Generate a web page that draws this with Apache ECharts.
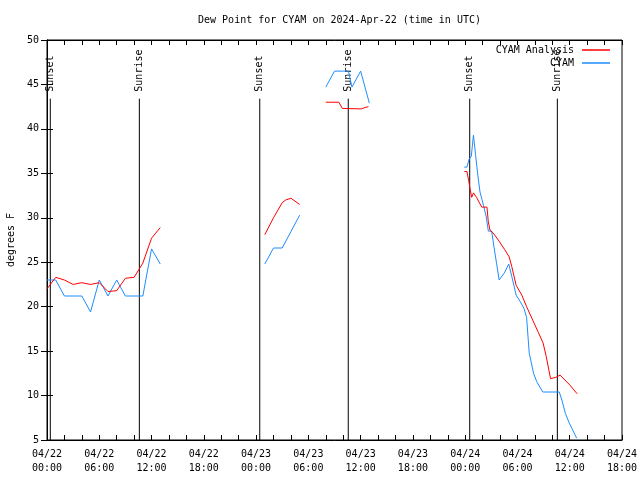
<!DOCTYPE html>
<html>
<head>
<meta charset="utf-8">
<script src="https://cdn.jsdelivr.net/npm/echarts@6/dist/echarts.min.js"></script>
<style>html,body{margin:0;padding:0;background:#fff}#c{width:640px;height:480px}</style>
</head>
<body>
<div id="c"></div>
<script>
// Time in hours since 2024-04-22 00:00 UTC; null value = gap
const analysisHours = [0,1,2,3,4,5,6,7,8,9,10,11,12,13, 14,
  25,26,27,27.4,28,29, 30,
  32,33.5,33.9,36.1,36.5,36.9, 40,
  47.9,48.2,48.4,48.55,48.75,48.95,49.3,49.9,50.5,50.65,50.85,51.2,51.8,52.55,53.05,53.35,53.85,54.5,55.05,55.75,56.35,56.95,57.3,57.8,58.4,58.9,60.0,60.85];
const analysisValues = [22.0,23.3,23.0,22.5,22.7,22.5,22.7,21.7,21.8,23.2,23.3,24.9,27.7,28.9, null,
  28.1,30.0,31.7,32.0,32.2,31.5, null,
  43.0,43.0,42.3,42.25,42.4,42.5, null,
  35.2,35.2,34.2,33.3,32.3,32.8,32.3,31.2,31.2,29.6,28.6,28.3,27.5,26.4,25.6,24.5,22.4,21.3,20.0,18.5,17.2,15.9,14.4,11.9,12.05,12.3,11.2,10.2];

const obsHours = [0,1,2,3,4,5,6,7,8,9,10,11,12,13, 14,
  25,26,27,28,29, 30,
  32,33,34,34.6,35,36,37, 40,
  47.9,48.2,48.45,48.7,48.95,49.2,49.45,49.7,50.1,50.4,50.66,51.04,51.3,51.6,51.9,52.5,53.0,53.35,53.85,54.3,54.75,55.05,55.35,55.85,56.2,56.9,58.8,59.1,59.5,59.95,60.8];
const obsValues = [23.0,23.0,21.2,21.2,21.2,19.4,23.0,21.2,23.0,21.2,21.2,21.2,26.5,24.8, null,
  24.8,26.6,26.6,28.45,30.3, null,
  44.7,46.5,46.5,46.5,44.7,46.5,42.9, null,
  35.7,35.7,36.6,36.9,39.3,37.0,34.8,32.9,31.4,30.2,28.5,28.5,26.75,24.9,23.0,23.8,24.8,23.4,21.3,20.6,19.8,18.8,14.8,12.5,11.6,10.4,10.4,9.5,8.0,6.9,5.2];

const eventHours = [0.38, 10.6, 24.42, 34.58, 48.52, 58.58];
const eventNames = ['Sunset','Sunrise','Sunset','Sunrise','Sunset','Sunrise'];
const eventBottom = 5, eventTop = 43.4;

const dayLabels = ['04/22','04/23','04/24','04/25'];
const yTicks = [5,10,15,20,25,30,35,40,45,50];

const FONT = 'DejaVu Sans Mono';
const txt = {fontFamily: FONT, fontSize: 10, color: '#000'};

function pairs(xs, ys){ return xs.map((x,i)=>[x, ys[i]]); }
function pad(n){ return (n<10?'0':'')+n; }

const eventSeries = eventHours.map((h,i)=>({
  type:'line', silent:true, symbol:'circle', symbolSize:0, showSymbol:true, animation:false,
  lineStyle:{color:'#000', width:1},
  itemStyle:{color:'rgba(0,0,0,0)'},
  labelLayout:{hideOverlap:false},
  data:[
    {value:[h, eventBottom]},
    {value:[h, eventTop], label:{show:true, formatter:eventNames[i], position:'top', distance:7,
      rotate:90, align:'left', verticalAlign:'middle', fontFamily:FONT, fontSize:10, color:'#000'}}
  ],
  z:1
}));

const xCommon = {type:'value', min:0, max:66, interval:6,
  splitLine:{show:false},
  axisLine:{show:true, lineStyle:{color:'#000'}},
  axisTick:{show:true, inside:true, length:5, lineStyle:{color:'#000'}},
  minorTick:{show:true, splitNumber:3, length:5, lineStyle:{color:'#000'}},
};
const yCommon = {type:'value', min:yTicks[0], max:yTicks[yTicks.length-1], interval:5,
  splitLine:{show:false},
  axisLine:{show:true, lineStyle:{color:'#000'}},
  axisTick:{show:true, inside:true, length:6, lineStyle:{color:'#000'}},
};

const chart = echarts.init(document.getElementById('c'), null, {renderer:'canvas'});
chart.setOption({
  animation:false,
  backgroundColor:'#fff',
  title:{text:'Dew Point for CYAM on 2024-Apr-22 (time in UTC)', left:334.5, top:10, textAlign:'center',
    textStyle:{fontFamily:FONT, fontSize:10, fontWeight:'normal', color:'#000'}},
  legend:[
    {data:['CYAM Analysis'], right:30, top:45, padding:0, align:'right', icon:'rect', itemWidth:28, itemHeight:1.5,
      textStyle:Object.assign({padding:[0,3,0,0]}, txt), selectedMode:false},
    {data:['CYAM'], right:30, top:58, padding:0, align:'right', icon:'rect', itemWidth:28, itemHeight:1.5,
      textStyle:Object.assign({padding:[0,3,0,0]}, txt), selectedMode:false}
  ],
  grid:{left:47, right:18, top:40, bottom:40, outerBoundsMode:'none', containLabel:false,
    show:true, borderColor:'#000', borderWidth:1, backgroundColor:'transparent'},
  xAxis:[
    Object.assign({}, xCommon, {position:'bottom',
      axisLabel:Object.assign({margin:7, lineHeight:14, formatter:(v)=>{
        const d=Math.floor(v/24), h=Math.round(v-d*24); return dayLabels[d]+'\n'+pad(h)+':00';}}, txt)}),
    Object.assign({}, xCommon, {position:'top', axisLabel:{show:false}})
  ],
  yAxis:[
    Object.assign({}, yCommon, {position:'left', name:'degrees F', nameLocation:'middle', nameGap:31,
      nameTextStyle:txt, axisLabel:Object.assign({margin:8}, txt)}),
    Object.assign({}, yCommon, {position:'right', axisLabel:{show:false}})
  ],
  series:[
    {name:'CYAM Analysis', type:'line', symbol:'none', connectNulls:false, lineStyle:{color:'#ff0000', width:1},
      itemStyle:{color:'#ff0000'}, data:pairs(analysisHours, analysisValues), z:3},
    {name:'CYAM', type:'line', symbol:'none', connectNulls:false, lineStyle:{color:'#1e8cff', width:1},
      itemStyle:{color:'#1e8cff'}, data:pairs(obsHours, obsValues), z:2}
  ].concat(eventSeries)
});
</script>
</body>
</html>
